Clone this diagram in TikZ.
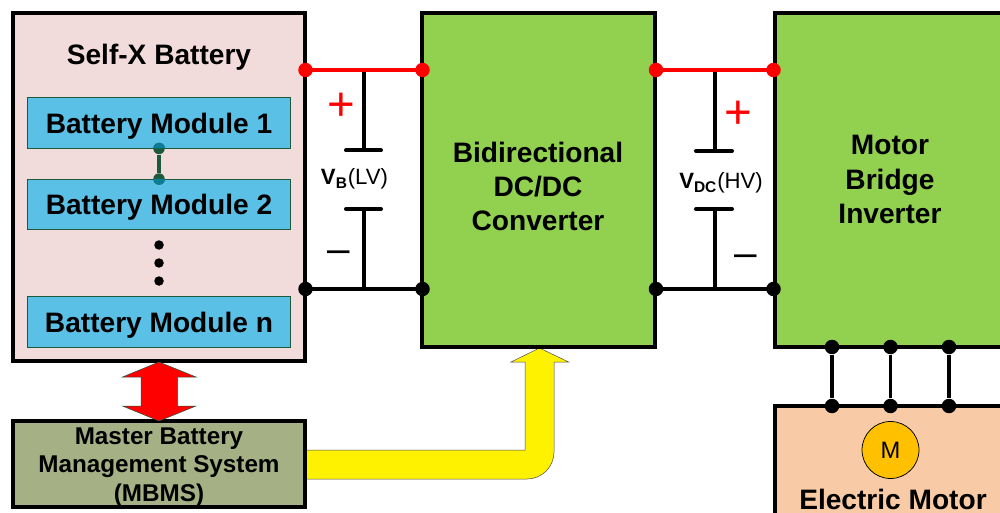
\documentclass[tikz,border=0pt]{standalone}
\usepackage{fontspec}
\setmainfont{Liberation Sans}
\usetikzlibrary{arrows.meta, positioning, calc}

\definecolor{packpink}{HTML}{F2DCDB}
\definecolor{moduleblue}{HTML}{5BC0E5}
\definecolor{convgreen}{HTML}{92D050}
\definecolor{motorpeach}{HTML}{F8CBA6}
\definecolor{mbmsolive}{HTML}{A5B185}
\definecolor{motorgold}{HTML}{FFC000}
\definecolor{linkgreen}{HTML}{1D5A3C}
\definecolor{linkteal}{HTML}{0D7C96}

\begin{document}
\begin{tikzpicture}[
    x=0.02cm, y=-0.02cm,
    block/.style={
        rectangle, draw, line width=0.08cm, inner sep=0pt,
        align=center, font=\fontsize{16}{19.4}\selectfont\bfseries
    },
    module/.style={
        rectangle, draw=linkgreen, line width=0.02cm, fill=moduleblue, inner sep=0pt,
        minimum width=5.28cm, minimum height=1.02cm, text depth=0pt,
        font=\fontsize{16}{18}\selectfont\bfseries
    },
    jred/.style={circle, fill=red, inner sep=0pt, minimum size=0.29cm},
    jblack/.style={circle, fill=black, inner sep=0pt, minimum size=0.29cm},
    jlink/.style={circle, fill=linkgreen, inner sep=0pt, minimum size=0.23cm},
    jdot/.style={circle, fill=black, inner sep=0pt, minimum size=0.19cm},
    wire/.style={line width=0.07cm},
    rail/.style={line width=0.08cm, red},
    plate/.style={line width=0.08cm, line cap=round},
    volt/.style={font=\fontsize{12.6}{15}\selectfont, inner sep=0pt},
    plus/.style={font=\fontsize{27}{27}\selectfont, text=red, inner sep=0pt},
    minus/.style={font=\fontsize{23}{23}\selectfont, inner sep=0pt}
]

\clip (0,0) rectangle (1000,513);
\fill[white] (0,0) rectangle (1000,513);

% yellow control arrow and red data arrow
\draw[fill=yellow, line width=0.01cm, draw=black!70]
    (305,450) -- (525,450) -- (525,362) -- (511,362) -- (539.5,348) -- (568.5,362)
    -- (554,362) -- (554,452) arc[start angle=0, end angle=90, radius=27] -- (305,479) -- cycle;

% blocks
\node[block, fill=packpink, minimum width=5.83cm, minimum height=6.97cm] (pack) at (159,187) {};
\node[block, draw=none, text depth=0pt] (packtitle) at (159,54) {Self-X Battery};
\node[module] (mod1) at (159,123) {Battery Module 1};
\node[module] (mod2) at (159,204.5) {Battery Module 2};
\node[module] (modn) at (159,322) {Battery Module n};
\node[block, fill=mbmsolive, minimum width=5.83cm, minimum height=1.72cm] (mbms) at (159,464) {};
\node[block, draw=none, font=\fontsize{13.8}{16.4}\selectfont\bfseries] (mbmstext) at (159,467) {Master Battery\\Management System\\(MBMS)};
\node[block, fill=convgreen, minimum width=4.66cm, minimum height=6.68cm] (conv) at (538.5,180) {};
\node[block, draw=none] (convtext) at (538,186.5) {Bidirectional\\DC/DC\\Converter};
\node[block, fill=convgreen, minimum width=4.62cm, minimum height=6.68cm] (inv) at (890,180) {};
\node[block, draw=none] (invtext) at (890,179.5) {Motor\\Bridge\\Inverter};
\node[block, fill=motorpeach, minimum width=4.62cm, minimum height=2.9cm] (motor) at (890,478) {};
\node[circle, draw, fill=motorgold, line width=0.015cm, minimum size=1.14cm, inner sep=0pt,
    font=\fontsize{13.5}{14}\selectfont] (mcirc) at (890.5,450) {M};
\node[block, draw=none] (motortext) at (893,499) {Electric Motor};

% red arrow between pack and mbms
\draw[fill=red, line width=0.01cm, draw=linkgreen]
    (159,362) -- (196,377) -- (177.5,377) -- (177.5,406) -- (196,406) -- (159,421)
    -- (122.5,406) -- (141,406) -- (141,377) -- (122.5,377) -- cycle;

% module links
\node[jlink] (link1) at (159,148.5) {};
\node[jlink] (link2) at (159,179) {};
\fill[linkteal] (link1.east) arc[start angle=0, end angle=180, radius=0.115cm] -- cycle;
\fill[linkteal] (link2.east) arc[start angle=0, end angle=-180, radius=0.115cm] -- cycle;
\draw[line width=0.07cm, linkgreen] (link1) -- (link2);
\node[jdot] (dot1) at (159,245) {};
\node[jdot] (dot2) at (159,263) {};
\node[jdot] (dot3) at (159,281) {};

% LV side
\node[jred] (lvp1) at (305.5,70) {};
\node[jred] (lvp2) at (422.5,70) {};
\node[jblack] (lvn1) at (305.5,289) {};
\node[jblack] (lvn2) at (422.5,289) {};
\coordinate (lvtop) at (364,70);
\coordinate (lvbot) at (364,289);
\coordinate (lvcap1) at (364,150.5);
\coordinate (lvcap2) at (364,209);
\draw[wire] (lvtop) -- (lvcap1);
\draw[wire] (lvcap2) -- (lvbot);
\draw[rail] (lvp1.center) -- (lvp2.center);
\draw[wire] (lvn1.center) -- (lvn2.center);
\draw[plate] ($(lvcap1)+(-18,0)$) -- ($(lvcap1)+(17,0)$);
\draw[plate] ($(lvcap2)+(-18,0)$) -- ($(lvcap2)+(17,0)$);
\node[plus] (lvplus) at (341,107) {+};
\node[minus] (lvminus) at (339,257) {–};
\node[volt] (lvlabel) at (354.5,179) {\textbf{V\textsubscript{B}}(LV)};

% HV side
\node[jred] (hvp1) at (656,70) {};
\node[jred] (hvp2) at (773.5,70) {};
\node[jblack] (hvn1) at (656,289) {};
\node[jblack] (hvn2) at (773.5,289) {};
\coordinate (hvtop) at (715,70);
\coordinate (hvbot) at (715,289);
\coordinate (hvcap1) at (715,151);
\coordinate (hvcap2) at (715,209);
\draw[wire] (hvtop) -- (hvcap1);
\draw[wire] (hvcap2) -- (hvbot);
\draw[rail] (hvp1.center) -- (hvp2.center);
\draw[wire] (hvn1.center) -- (hvn2.center);
\draw[plate] ($(hvcap1)+(-19,0)$) -- ($(hvcap1)+(17,0)$);
\draw[plate] ($(hvcap2)+(-19,0)$) -- ($(hvcap2)+(17,0)$);
\node[plus] (hvplus) at (738,115) {+};
\node[minus] (hvminus) at (745.5,261) {–};
\node[volt] (hvlabel) at (721,183) {\textbf{V\textsubscript{DC}}(HV)};

% phases
\foreach \px/\pname in {832/a, 890.5/b, 949/c} {
    \node[jblack] (inv\pname) at (\px,347) {};
    \node[jblack] (mot\pname) at (\px,406) {};
    \draw[wire] (inv\pname) -- (mot\pname);
}

\end{tikzpicture}
\end{document}
